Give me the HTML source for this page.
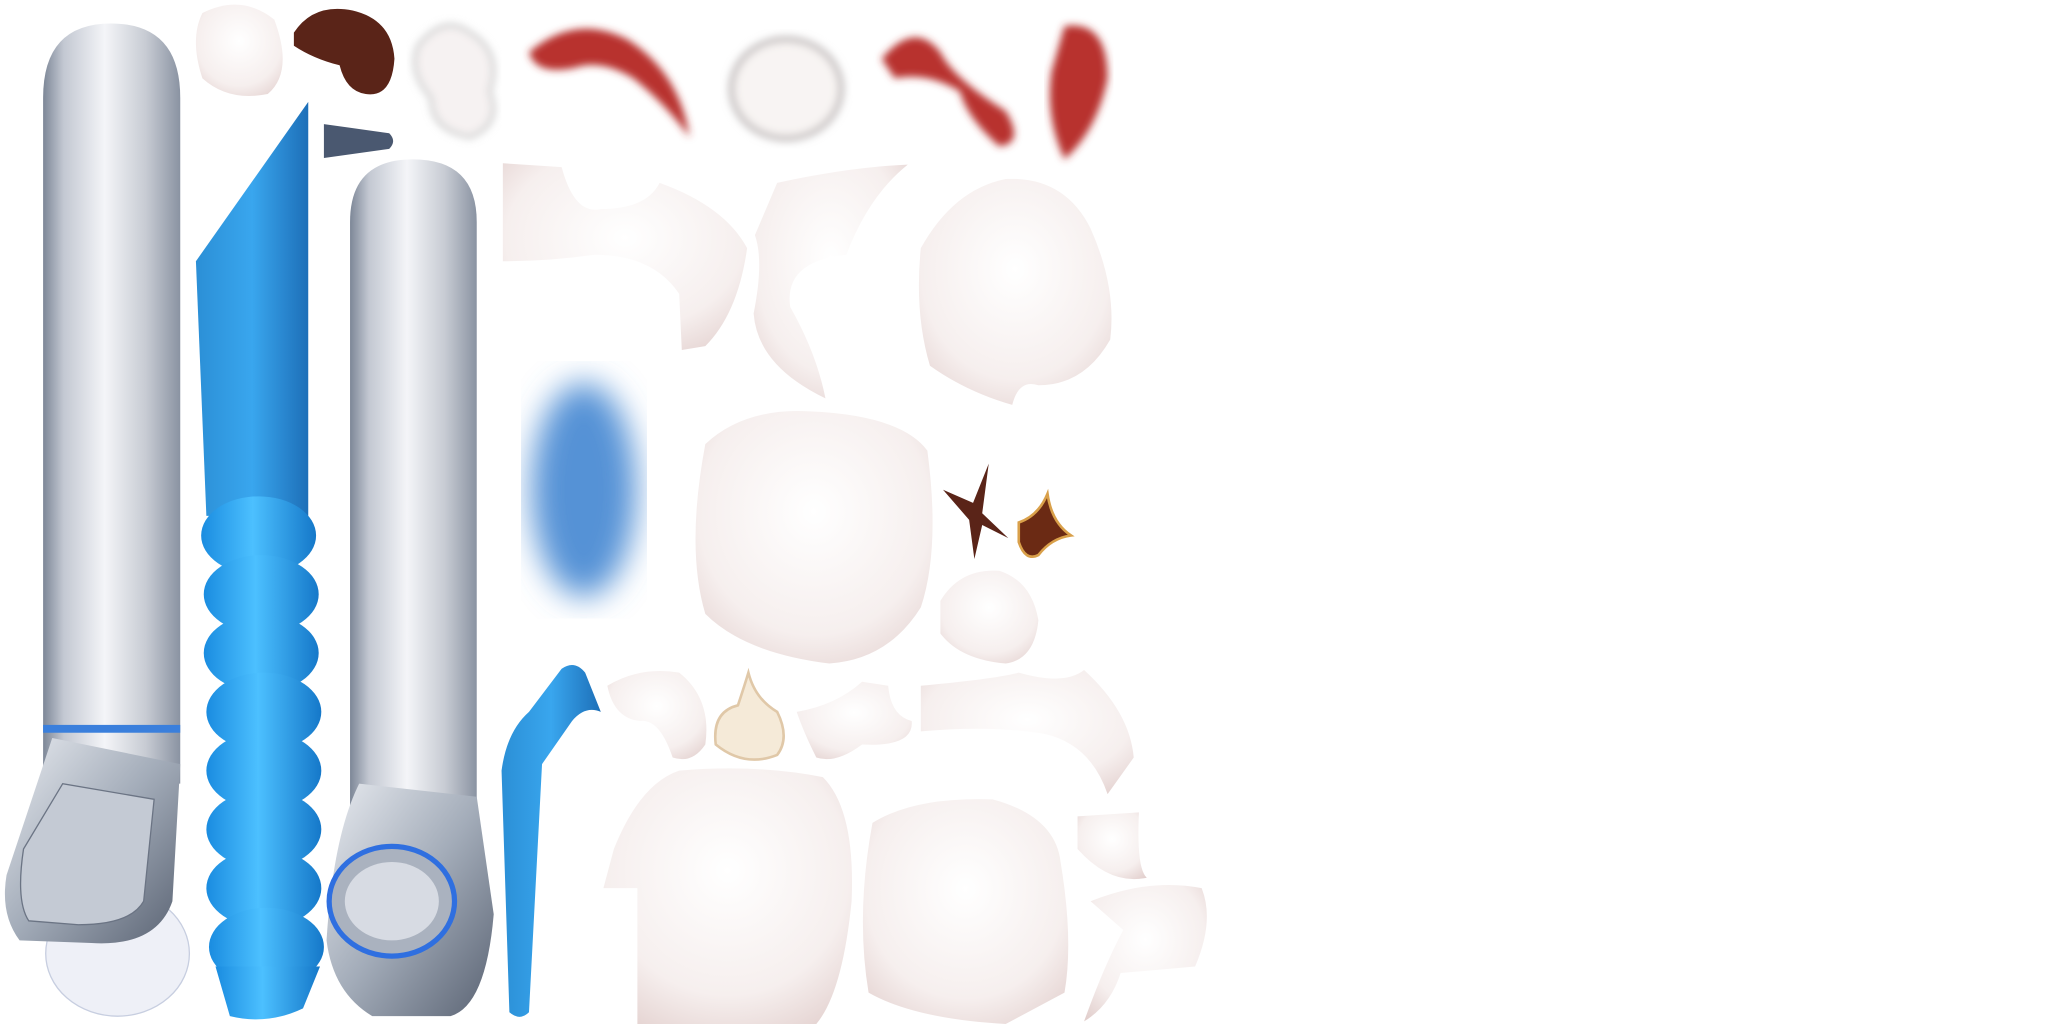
<!DOCTYPE html>
<html><head><meta charset="utf-8"><style>
html,body{margin:0;padding:0;background:#fff;width:2048px;height:1024px;overflow:hidden}
svg{display:block}
</style></head><body>
<svg width="2048" height="1024" viewBox="0 0 1568 784" xmlns="http://www.w3.org/2000/svg">
<defs>
<linearGradient id="silver" x1="0" x2="1" y1="0" y2="0">
<stop offset="0" stop-color="#7d8797"/><stop offset="0.15" stop-color="#c3c8d2"/><stop offset="0.45" stop-color="#f4f5f8"/><stop offset="0.75" stop-color="#c7cbd3"/><stop offset="1" stop-color="#8a93a2"/></linearGradient>
<linearGradient id="metal" x1="0" x2="1" y1="0" y2="1">
<stop offset="0" stop-color="#e8ebf0"/><stop offset="0.5" stop-color="#a3acb9"/><stop offset="1" stop-color="#5a6373"/></linearGradient>
<linearGradient id="blue" x1="0" x2="1"><stop offset="0" stop-color="#2b8fd6"/><stop offset="0.5" stop-color="#39a6ee"/><stop offset="1" stop-color="#1d6fb8"/></linearGradient>
<linearGradient id="bump" x1="0" x2="1"><stop offset="0" stop-color="#1a8ce0"/><stop offset="0.45" stop-color="#4cc0ff"/><stop offset="1" stop-color="#1578c9"/></linearGradient>
<radialGradient id="tooth" cx="0.5" cy="0.4" r="0.75"><stop offset="0" stop-color="#ffffff"/><stop offset="0.65" stop-color="#f6efee"/><stop offset="1" stop-color="#e2cfcd"/></radialGradient>
<filter id="blur8"><feGaussianBlur stdDeviation="12"/></filter>
<filter id="blur3"><feGaussianBlur stdDeviation="3"/></filter>
</defs>

<g>
<path d="M33 75 Q33 18 85 18 Q138 18 138 75 L138 600 L33 600 Z" fill="url(#silver)"/>
<rect x="33" y="555" width="105" height="6" fill="#3a7fdc"/>
<ellipse cx="90" cy="730" rx="55" ry="48" fill="#eef0f7" stroke="#c7cee0"/>
<path d="M40 565 L138 585 L132 690 Q120 725 70 722 L15 720 Q0 700 5 670 Z" fill="url(#metal)"/>
<path d="M18 650 L48 600 L118 612 L110 690 Q100 708 60 708 L22 705 Q12 690 18 650 Z" fill="#c4cad4" stroke="#6b7484"/>
</g>

<g>
<path d="M150 200 L236 78 L236 395 L158 395 Z" fill="url(#blue)"/>
<g fill="url(#bump)">
<ellipse cx="198" cy="410" rx="44" ry="30"/><ellipse cx="200" cy="455" rx="44" ry="30"/>
<ellipse cx="200" cy="500" rx="44" ry="30"/><ellipse cx="202" cy="545" rx="44" ry="30"/>
<ellipse cx="202" cy="590" rx="44" ry="30"/><ellipse cx="202" cy="635" rx="44" ry="30"/>
<ellipse cx="202" cy="680" rx="44" ry="30"/><ellipse cx="204" cy="725" rx="44" ry="30"/>
<path d="M165 740 L245 740 L232 772 Q205 785 176 778 Z"/>
</g>
</g>
<path d="M248 95 L298 102 Q304 108 298 114 L248 121 Z" fill="#4a5870"/>

<g>
<path d="M268 170 Q268 122 316 122 Q365 122 365 170 L365 640 L268 640 Z" fill="url(#silver)"/>
<path d="M275 600 L365 610 L378 700 Q372 770 345 778 L285 778 Q255 760 250 720 Q255 640 275 600 Z" fill="url(#metal)"/>
<ellipse cx="300" cy="690" rx="48" ry="42" fill="#aab2bf" stroke="#2f6fe0" stroke-width="4"/>
<ellipse cx="300" cy="690" rx="36" ry="30" fill="#d7dbe3"/>
</g>

<path d="M390 775 L384 590 Q388 560 405 545 L430 512 Q440 505 448 515 L460 545 Q448 540 438 552 L415 585 L405 775 Q398 782 390 775 Z" fill="url(#blue)"/>

<path d="M155 10 Q185 -5 210 15 Q225 55 205 72 Q175 78 155 60 Q145 30 155 10 Z" fill="url(#tooth)"/>
<path d="M225 25 Q240 2 270 8 Q300 15 302 45 Q300 75 280 72 Q265 70 260 50 Q240 45 225 35 Z" fill="#5a2418"/>
<path d="M320 35 Q340 10 360 25 Q385 40 375 70 Q385 95 360 105 Q330 100 330 75 Q312 55 320 35 Z" fill="#f6f2f2" stroke="#ccc" stroke-width="3" filter="url(#blur3)"/>
<path d="M405 40 Q440 10 480 30 Q520 55 528 105 Q510 80 485 60 Q460 45 440 52 Q410 58 405 40 Z" fill="#b8312e" filter="url(#blur3)"/>
<ellipse cx="602" cy="68" rx="42" ry="38" fill="#f8f4f3" stroke="#c9c4c4" stroke-width="5" filter="url(#blur3)"/>
<path d="M675 45 Q700 15 720 40 Q730 60 770 85 Q785 110 765 112 Q740 90 735 70 Q710 55 685 60 Z" fill="#b8312e" filter="url(#blur3)"/>
<path d="M815 20 Q848 15 848 60 Q840 100 815 122 Q800 90 805 55 Z" fill="#b8312e" filter="url(#blur3)"/>

<g fill="url(#tooth)">
<path d="M385 125 L430 128 Q440 165 460 160 Q495 160 505 140 Q555 158 572 190 Q565 240 540 265 L522 268 L520 225 Q500 195 455 195 Q420 200 385 200 Z"/>
<path d="M595 140 Q650 128 695 126 Q665 150 648 195 Q600 200 605 235 Q625 270 632 305 Q580 280 577 240 Q585 200 578 180 Z"/>
<path d="M705 190 Q730 145 770 137 Q815 135 835 175 Q855 220 850 260 Q830 295 795 295 Q780 290 775 310 Q740 300 712 280 Q700 240 705 190 Z"/>
<path d="M540 340 Q570 312 620 315 Q690 318 710 345 Q720 420 705 465 Q680 505 635 508 Q570 500 540 470 Q525 420 540 340 Z"/>
<path d="M720 460 Q735 435 765 437 Q790 445 795 475 Q792 505 770 508 Q735 505 720 485 Z"/>
<path d="M465 525 Q490 510 520 515 Q545 535 540 570 Q530 585 515 580 Q505 550 490 552 Q470 550 465 525 Z"/>
<path d="M610 545 Q640 540 660 522 L680 525 Q682 548 698 552 Q700 572 660 570 Q640 585 625 580 Q615 560 610 545 Z"/>
<path d="M705 525 Q760 520 780 515 Q815 525 830 513 Q865 545 868 580 L848 608 Q835 570 800 562 Q760 555 705 560 Z"/>
<path d="M470 650 Q490 600 520 590 Q580 585 630 595 Q655 620 652 690 Q645 760 625 784 L488 784 L488 680 L462 680 Z"/>
<path d="M668 630 Q700 610 760 612 Q808 625 812 660 Q822 720 815 760 L770 784 Q700 780 665 760 Q655 700 668 630 Z"/>
<path d="M825 625 L872 622 Q870 665 878 672 Q850 678 825 650 Z"/>
<path d="M835 690 Q880 672 920 680 Q930 705 915 740 L858 745 Q850 770 830 782 Q845 740 860 712 Z"/>
</g>
<ellipse cx="447" cy="375" rx="40" ry="82" fill="#5592d6" filter="url(#blur8)"/>
<path d="M722 375 L745 385 L757 355 L752 393 L772 412 L752 402 L746 428 L742 398 Z" fill="#5a2418"/>
<path d="M780 400 Q795 395 802 378 Q805 400 820 410 Q805 412 795 425 Q785 430 780 415 Z" fill="#6b2a14" stroke="#d9a04a" stroke-width="2"/>
<path d="M548 570 Q545 545 565 540 Q570 525 573 515 Q578 535 595 545 Q605 565 595 578 Q570 588 548 570 Z" fill="#f5ead8" stroke="#e0c8a8" stroke-width="2"/>
</svg>
</body></html>
